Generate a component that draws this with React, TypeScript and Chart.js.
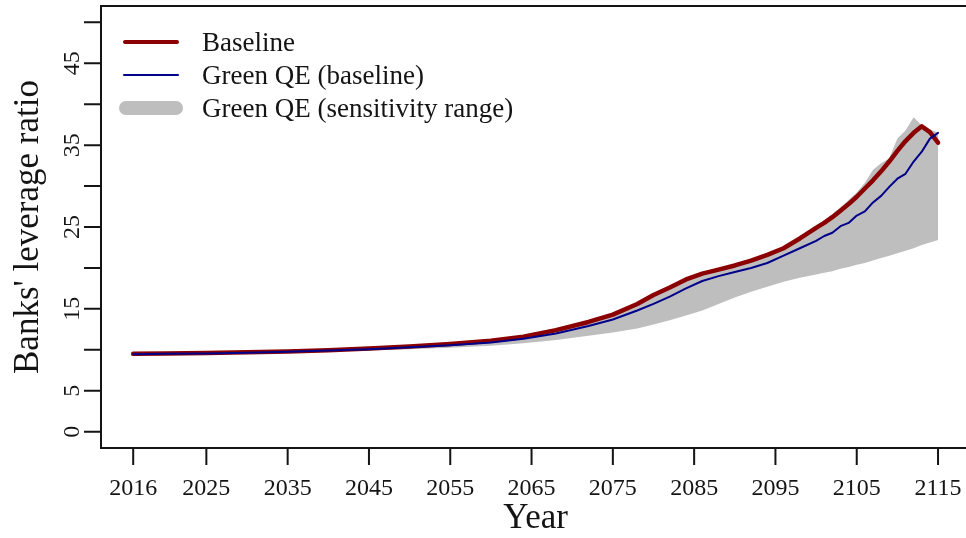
import React, { useEffect, useRef } from "react";
import { Chart, registerables } from "chart.js";

Chart.register(...registerables);

const years = [2016, 2020, 2025, 2030, 2035, 2040, 2045, 2050, 2055, 2060, 2064, 2068, 2072, 2075, 2078, 2080, 2082, 2084, 2086, 2088, 2090, 2092, 2094, 2096, 2098, 2100, 2101, 2102, 2103, 2104, 2105, 2106, 2107, 2108, 2109, 2110, 2111, 2112, 2113, 2114, 2115];
const baseline = [9.5, 9.55, 9.6, 9.7, 9.8, 9.95, 10.15, 10.4, 10.7, 11.1, 11.6, 12.4, 13.4, 14.3, 15.6, 16.7, 17.6, 18.6, 19.3, 19.8, 20.3, 20.9, 21.6, 22.4, 23.6, 24.9, 25.5, 26.2, 27.0, 27.8, 28.7, 29.7, 30.7, 31.8, 33.0, 34.3, 35.5, 36.5, 37.3, 36.6, 35.3];
const greenQE = [9.45, 9.5, 9.55, 9.65, 9.75, 9.9, 10.05, 10.3, 10.55, 10.9, 11.35, 12.0, 12.9, 13.7, 14.8, 15.6, 16.5, 17.5, 18.4, 19.0, 19.5, 20.0, 20.6, 21.5, 22.4, 23.3, 23.9, 24.3, 25.1, 25.5, 26.4, 26.9, 28.0, 28.8, 29.9, 30.9, 31.5, 33.0, 34.2, 35.8, 36.5];
const rangeLow = [9.4, 9.45, 9.5, 9.55, 9.65, 9.75, 9.9, 10.05, 10.25, 10.5, 10.8, 11.2, 11.7, 12.1, 12.6, 13.1, 13.6, 14.2, 14.8, 15.6, 16.4, 17.1, 17.7, 18.3, 18.8, 19.2, 19.4, 19.6, 19.9, 20.1, 20.4, 20.6, 20.9, 21.2, 21.5, 21.8, 22.1, 22.4, 22.8, 23.1, 23.4];
const rangeHigh = [9.55, 9.6, 9.65, 9.75, 9.85, 10.0, 10.2, 10.45, 10.75, 11.15, 11.7, 12.5, 13.5, 14.45, 15.8, 16.8, 17.8, 18.8, 19.5, 20.0, 20.5, 21.1, 21.8, 22.6, 23.8, 25.2, 25.8, 26.6, 27.4, 28.3, 29.2, 30.4, 32.0, 32.8, 33.4, 35.8, 36.8, 38.4, 37.4, 36.9, 36.5];

const xTickYears = [2016, 2025, 2035, 2045, 2055, 2065, 2075, 2085, 2095, 2105, 2115];
const yTicks = [0, 5, 10, 15, 20, 25, 30, 35, 40, 45, 50];
const yTickLabels = [0, 5, 15, 25, 35, 45];
const legendLabels = ["Baseline", "Green QE (baseline)", "Green QE (sensitivity range)"];
const xTitle = "Year";
const yTitle = "Banks' leverage ratio";

const RED = "#8B0000";
const BLUE = "#00008B";
const GRAY = "#BEBEBE";
const INK = "#141414";
const FONT = '"Liberation Serif", "Times New Roman", serif';

const SPAN = years[years.length - 1] - years[0];
const X_LIM_MIN = years[0] - 0.04 * SPAN;
const X_LIM_MAX = years[years.length - 1] + 0.04 * SPAN;
// the reference photo cuts the plot region just before its right edge
const X_VISIBLE_MAX = X_LIM_MAX - 0.52;

const pts = (vals: number[]) => vals.map((v, i) => ({ x: years[i], y: v }));

const rAxesPlugin = {
  id: "rAxes",
  afterDraw(chart: any) {
    const { ctx, chartArea: a } = chart;
    const x = chart.scales.x;
    const y = chart.scales.y;
    const boxRight = x.getPixelForValue(X_LIM_MAX);
    ctx.save();
    ctx.strokeStyle = INK;
    ctx.lineWidth = 2;
    ctx.strokeRect(a.left, a.top, boxRight - a.left, a.bottom - a.top);
    ctx.beginPath();
    for (const v of yTicks) {
      const py = y.getPixelForValue(v);
      ctx.moveTo(a.left - 17, py);
      ctx.lineTo(a.left, py);
    }
    for (const t of xTickYears) {
      const px = x.getPixelForValue(t);
      ctx.moveTo(px, a.bottom);
      ctx.lineTo(px, a.bottom + 17);
    }
    ctx.stroke();

    ctx.fillStyle = INK;
    ctx.font = `24px ${FONT}`;
    ctx.textAlign = "center";
    ctx.textBaseline = "alphabetic";
    for (const t of xTickYears) {
      ctx.fillText(String(t), x.getPixelForValue(t), a.bottom + 47);
    }
    for (const v of yTickLabels) {
      ctx.save();
      ctx.translate(a.left - 22, y.getPixelForValue(v));
      ctx.rotate(-Math.PI / 2);
      ctx.fillText(String(v), 0, 0);
      ctx.restore();
    }

    ctx.font = `35px ${FONT}`;
    ctx.fillText(xTitle, (a.left + boxRight) / 2, a.bottom + 80);
    ctx.save();
    ctx.translate(38, (a.top + a.bottom) / 2);
    ctx.rotate(-Math.PI / 2);
    ctx.fillText(yTitle, 0, 0);
    ctx.restore();

    // legend
    const rows = [42, 75, 108];
    ctx.lineCap = "round";
    ctx.strokeStyle = RED;
    ctx.lineWidth = 4;
    ctx.beginPath();
    ctx.moveTo(125, rows[0]);
    ctx.lineTo(177, rows[0]);
    ctx.stroke();
    ctx.strokeStyle = BLUE;
    ctx.lineWidth = 2;
    ctx.beginPath();
    ctx.moveTo(124, rows[1]);
    ctx.lineTo(178, rows[1]);
    ctx.stroke();
    ctx.strokeStyle = GRAY;
    ctx.lineWidth = 14;
    ctx.beginPath();
    ctx.moveTo(126, rows[2]);
    ctx.lineTo(176, rows[2]);
    ctx.stroke();

    ctx.fillStyle = INK;
    ctx.font = `27px ${FONT}`;
    ctx.textAlign = "left";
    legendLabels.forEach((lab, i) => ctx.fillText(lab, 202, rows[i] + 9));
    ctx.restore();
  },
};

export default function App() {
  const ref = useRef<HTMLCanvasElement>(null);
  useEffect(() => {
    document.body.style.margin = "0";
    const canvas = ref.current!;
    const chart = new Chart(canvas, {
      type: "line",
      data: {
        datasets: [
          {
            label: legendLabels[1],
            data: pts(greenQE),
            borderColor: BLUE,
            borderWidth: 2,
            pointRadius: 0,
            tension: 0,
            fill: false,
            borderCapStyle: "round",
            borderJoinStyle: "round",
          },
          {
            label: legendLabels[0],
            data: pts(baseline),
            borderColor: RED,
            borderWidth: 4.5,
            pointRadius: 0,
            tension: 0,
            fill: false,
            borderCapStyle: "round",
            borderJoinStyle: "round",
          },
          {
            label: legendLabels[2],
            data: pts(rangeHigh),
            borderWidth: 0,
            borderColor: GRAY,
            backgroundColor: GRAY,
            pointRadius: 0,
            tension: 0,
            fill: "+1",
          },
          {
            label: "low",
            data: pts(rangeLow),
            borderWidth: 0,
            borderColor: GRAY,
            pointRadius: 0,
            tension: 0,
            fill: false,
          },
        ],
      },
      options: {
        animation: false,
        responsive: false,
        devicePixelRatio: 1,
        layout: { padding: { left: 101, top: 6, right: 0, bottom: 90 } },
        plugins: { legend: { display: false }, tooltip: { enabled: false } },
        scales: {
          x: { type: "linear", display: false, min: X_LIM_MIN, max: X_VISIBLE_MAX },
          y: { type: "linear", display: false, min: -2, max: 52 },
        },
      },
      plugins: [rAxesPlugin],
    } as any);
    return () => chart.destroy();
  }, []);
  return <canvas ref={ref} width={966} height={538} style={{ display: "block", width: 966, height: 538 }} />;
}
